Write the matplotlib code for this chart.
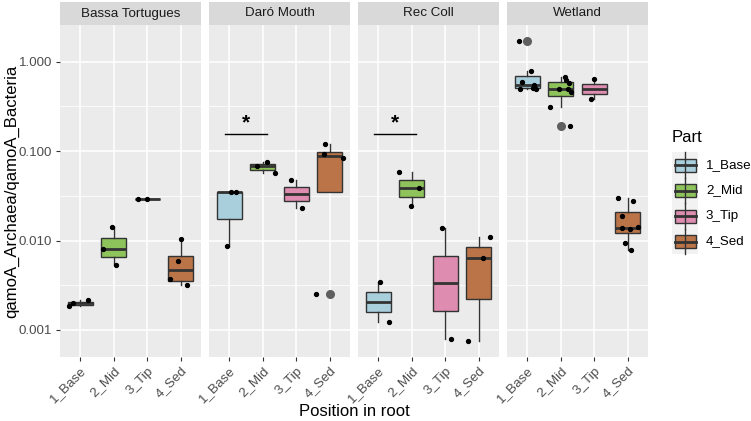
import numpy as np
import matplotlib.pyplot as plt
from matplotlib.patches import Rectangle
from matplotlib.lines import Line2D

plt.rcParams['font.family'] = ['Liberation Sans', 'DejaVu Sans']

# ---- data (ratio qamoA_Archaea / qamoA_Bacteria) ----
sites = ["Bassa Tortugues", "Daró Mouth", "Rec Coll", "Wetland"]
parts = ["1_Base", "2_Mid", "3_Tip", "4_Sed"]

bassa_base = [0.00185, 0.0020, 0.00215]
bassa_mid = [0.0053, 0.0080, 0.0140]
bassa_tip = [0.029, 0.029]
bassa_sed = [0.00315, 0.0037, 0.0059, 0.0103]

daro_base = [0.0087, 0.0345, 0.0350]
daro_mid = [0.057, 0.068, 0.0756]
daro_tip = [0.0229, 0.0475]
daro_sed = [0.0025, 0.083, 0.093, 0.119]

rec_base = [0.00122, 0.0034]
rec_mid = [0.0245, 0.039, 0.059]
rec_tip = [0.00079, 0.0139]
rec_sed = [0.00076, 0.0064, 0.011]

wet_base = [1.72, 0.78, 0.60, 0.55, 0.51, 0.50, 0.49]
wet_mid = [0.68, 0.62, 0.58, 0.50, 0.49, 0.46, 0.31, 0.19]
wet_tip = [0.383, 0.635]
wet_sed = [0.030, 0.028, 0.0188, 0.0140, 0.0137, 0.0133, 0.0093, 0.0078]

site_data = {
    "Bassa Tortugues": [bassa_base, bassa_mid, bassa_tip, bassa_sed],
    "Daró Mouth": [daro_base, daro_mid, daro_tip, daro_sed],
    "Rec Coll": [rec_base, rec_mid, rec_tip, rec_sed],
    "Wetland": [wet_base, wet_mid, wet_tip, wet_sed],
}

# significant pairs (Base vs Mid)
signif_sites = ["Daró Mouth", "Rec Coll"]
signif_level = 0.155

y_ticks = [0.001, 0.01, 0.1, 1.0]
y_tick_labels = ["0.001", "0.010", "0.100", "1.000"]

colors = ["#A9CFDD", "#8DC35A", "#DE8DB0", "#BA7448"]
edge = "#333333"

W, H = 751, 421
fig = plt.figure(figsize=(W / 100, H / 100), dpi=100)


def px(x0, y0, x1, y1):
    return [x0 / W, 1 - y1 / H, (x1 - x0) / W, (y1 - y0) / H]


panel_x = [60, 209, 358, 507]
pw = 141
top, bot = 25, 357
ylim = (-3.302, 0.410)

rng = np.random.default_rng(3)

for i, site in enumerate(sites):
    ax = fig.add_axes(px(panel_x[i], top, panel_x[i] + pw, bot))
    ax.set_facecolor("#EBEBEB")
    ax.set_axisbelow(True)
    for s in ax.spines.values():
        s.set_visible(False)

    groups = site_data[site]
    logs = [np.log10(g) for g in groups]
    bp = ax.boxplot(
        logs, positions=[1, 2, 3, 4], widths=0.75, patch_artist=True,
        showcaps=False, whis=1.5,
        boxprops=dict(edgecolor=edge, linewidth=1.0),
        whiskerprops=dict(color=edge, linewidth=1.0),
        medianprops=dict(color=edge, linewidth=2.0),
        flierprops=dict(marker="o", markersize=5.5, markerfacecolor="#5F5F5F",
                        markeredgecolor="#5F5F5F"),
    )
    for patch, c in zip(bp["boxes"], colors):
        patch.set_facecolor(c)

    for j, lg in enumerate(logs):
        xs = j + 1 + rng.uniform(-0.4, 0.4, len(lg))
        ax.plot(xs, lg, "o", color="black", markersize=2.8, zorder=5)

    if site in signif_sites:
        yl = np.log10(signif_level)
        ax.plot([0.88, 2.12], [yl, yl], color="black", lw=1.0)
        ax.text(1.5, yl + 0.13, "*", ha="center", va="center", fontsize=15,
                fontweight="bold")

    ax.set_xlim(0.4, 4.6)
    ax.set_ylim(*ylim)
    ax.set_xticks([1, 2, 3, 4])
    ax.set_xticklabels(parts, rotation=45, ha="right", va="top",
                       rotation_mode="anchor")
    ax.set_yticks(np.log10(y_ticks))
    ax.set_yticks([-2.5, -1.5, -0.5], minor=True)
    ax.grid(which="major", color="white", lw=1.1)
    ax.grid(which="minor", axis="y", color="white", lw=0.55)
    ax.tick_params(which="major", length=3, width=0.8, color=edge,
                   labelsize=9.6, labelcolor="#4D4D4D", pad=2.5)
    ax.tick_params(which="minor", length=0)
    if i == 0:
        ax.set_yticklabels(y_tick_labels)
    else:
        ax.tick_params(axis="y", length=0, labelleft=False)

    sax = fig.add_axes(px(panel_x[i], 2, panel_x[i] + pw, top))
    sax.set_facecolor("#D9D9D9")
    sax.set_xticks([])
    sax.set_yticks([])
    for s in sax.spines.values():
        s.set_visible(False)
    sax.text(0.5, 0.5, site, ha="center", va="center", fontsize=9.6,
             color="#1A1A1A", transform=sax.transAxes)

fig.text(354 / W, 1 - 411 / H, "Position in root", ha="center", va="center",
         fontsize=12)
fig.text(12 / W, 1 - 191 / H, "qamoA_Archaea/qamoA_Bacteria", ha="center",
         va="center", rotation=90, fontsize=12)

# legend drawn in pixel coordinates
lax = fig.add_axes([0, 0, 1, 1])
lax.set_xlim(0, W)
lax.set_ylim(H, 0)
lax.axis("off")
lax.text(672, 138, "Part", ha="left", va="center", fontsize=12)
key_y = [165, 190.5, 216, 241.5]
for c, lab, ky in zip(colors, parts, key_y):
    lax.add_patch(Rectangle((672, ky - 12.75), 26, 25.5, facecolor="#F2F2F2",
                            edgecolor="none"))
    lax.add_line(Line2D([685, 685], [ky - 12.75, ky + 12.75], color=edge, lw=1.0))
    lax.add_patch(Rectangle((674.5, ky - 6.5), 21, 13, facecolor=c,
                            edgecolor=edge, lw=1.0))
    lax.add_line(Line2D([674.5, 695.5], [ky, ky], color=edge, lw=2.0))
    lax.text(706, ky, lab, ha="left", va="center", fontsize=9.6)

fig.savefig("out.png", dpi=100)
